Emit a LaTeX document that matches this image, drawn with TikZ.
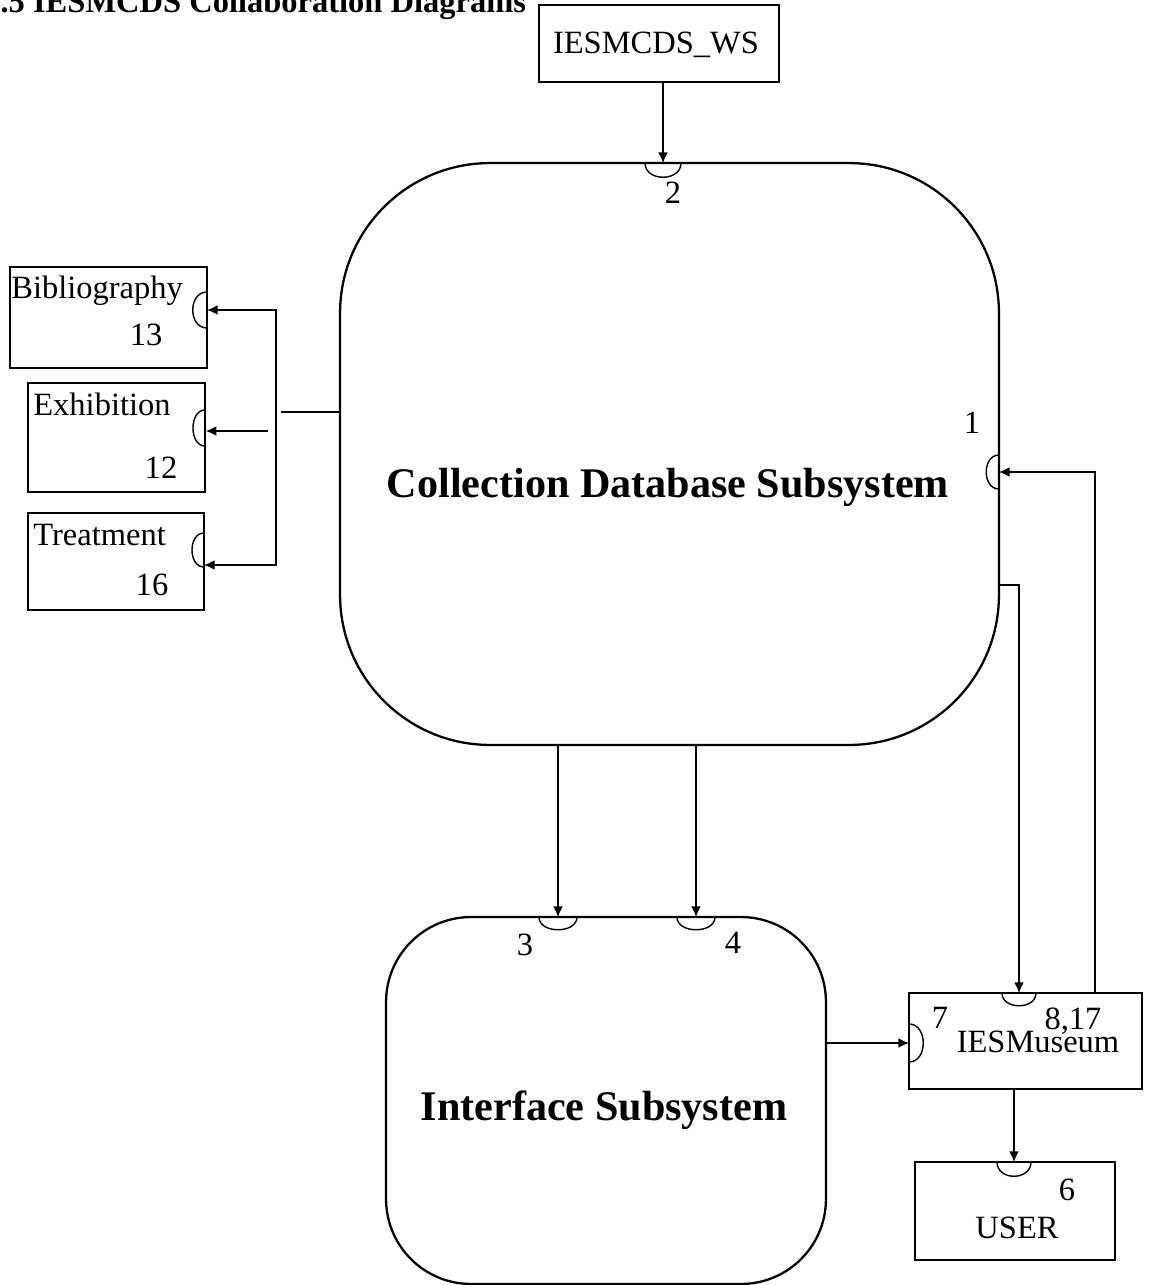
\documentclass[tikz,border=0pt]{standalone}
\usepackage{fontspec}
\setmainfont{Liberation Serif}
\usetikzlibrary{arrows.meta,positioning}

\begin{document}
\begin{tikzpicture}[
    x=0.02cm, y=-0.02cm,
    box/.style={rectangle, draw, line width=0.9pt, inner sep=0pt},
    subsys/.style={rectangle, draw, line width=1.3pt, inner sep=0pt},
    txt/.style={font=\fontsize{18.5}{20}\selectfont, inner sep=0pt},
    bigtxt/.style={font=\bfseries\fontsize{24}{26}\selectfont, inner sep=0pt},
    heading/.style={font=\bfseries\fontsize{18.5}{20}\selectfont, inner sep=0pt},
    port/.style={line width=0.8pt},
    line/.style={line width=0.8pt},
    arrow/.style={line width=0.8pt, ->, >={Latex[length=6pt,width=5.5pt]}}
]
    \useasboundingbox (0,0) rectangle (1149,1285);
    \node[heading, anchor=base west] (title) at (-16,12) {4.5 IESMCDS Collaboration Diagrams};

    % subsystems
    \node[subsys, minimum width=13.18cm, minimum height=11.64cm, rounded corners=3cm] (cds) at (669.5,454) {};
    \node[bigtxt, anchor=base] (cdslabel) at (668,497) {Collection Database Subsystem};
    \node[subsys, minimum width=8.8cm, minimum height=7.34cm, rounded corners=1.7cm] (ifs) at (606,1100.5) {};
    \node[bigtxt, anchor=base] (ifslabel) at (604,1120) {Interface Subsystem};

    % boxes
    \node[box, minimum width=4.8cm, minimum height=1.54cm] (ws) at (659,43.5) {};
    \node[txt, anchor=base] (wslabel) at (656,53) {IESMCDS\_WS};
    \node[box, minimum width=3.94cm, minimum height=2.02cm] (bib) at (108.5,317.5) {};
    \node[txt, anchor=base west] (biblabel) at (11,298) {Bibliography};
    \node[txt, anchor=base] (bibnum) at (146,345) {13};
    \node[box, minimum width=3.54cm, minimum height=2.18cm] (ex) at (116.5,437.5) {};
    \node[txt, anchor=base west] (exlabel) at (33,415) {Exhibition};
    \node[txt, anchor=base] (exnum) at (161,478) {12};
    \node[box, minimum width=3.52cm, minimum height=1.94cm] (treat) at (116,561.5) {};
    \node[txt, anchor=base west] (treatlabel) at (33,545) {Treatment};
    \node[txt, anchor=base] (treatnum) at (152,595) {16};
    \node[box, minimum width=4.66cm, minimum height=1.92cm] (museum) at (1025.5,1041) {};
    \node[txt, anchor=base] (museumlabel) at (1038,1052) {IESMuseum};
    \node[box, minimum width=4cm, minimum height=1.96cm] (user) at (1015,1211) {};
    \node[txt, anchor=base] (userlabel) at (1017,1238) {USER};

    % port numbers
    \node[txt, anchor=base] (n2) at (673,203) {2};
    \node[txt, anchor=base] (n1) at (972,433) {1};
    \node[txt, anchor=base] (n3) at (525,955) {3};
    \node[txt, anchor=base] (n4) at (733,953) {4};
    \node[txt, anchor=base] (n7) at (940,1028) {7};
    \node[txt, anchor=base] (n817) at (1073,1029) {8,17};
    \node[txt, anchor=base] (n6) at (1067,1200) {6};

    % ports
    \coordinate (p2) at (663,163);
    \coordinate (p1) at (999,472);
    \coordinate (p3) at (558,917);
    \coordinate (p4) at (696,917);
    \coordinate (p7) at (909,1043);
    \coordinate (p8) at (1019,993);
    \coordinate (p6) at (1014,1162);
    \coordinate (pb) at (207,310);
    \coordinate (pe) at (205,428);
    \coordinate (pt) at (204,550);
    \draw[port] (p2) ++(-18,0) .. controls +(0,19) and +(0,19) .. ++(36,0);
    \draw[port] (p3) ++(-19,0) .. controls +(0,17) and +(0,17) .. ++(38,0);
    \draw[port] (p4) ++(-19,0) .. controls +(0,17) and +(0,17) .. ++(38,0);
    \draw[port] (p8) ++(-17,0) .. controls +(0,17) and +(0,17) .. ++(34,0);
    \draw[port] (p6) ++(-17,0) .. controls +(0,19) and +(0,19) .. ++(34,0);
    \draw[port] (p1) ++(0,-17) .. controls +(-17,0) and +(-17,0) .. ++(0,34);
    \draw[port] (p7) ++(0,-19) .. controls +(19,0) and +(19,0) .. ++(0,38);
    \draw[port] (pb) ++(0,-18) .. controls +(-19,0) and +(-19,0) .. ++(0,36);
    \draw[port] (pe) ++(0,-18) .. controls +(-16,0) and +(-16,0) .. ++(0,36);
    \draw[port] (pt) ++(0,-17) .. controls +(-16,0) and +(-16,0) .. ++(0,34);

    % connectors
    \coordinate (rise) at (1095,993);
    \coordinate (cdsout) at (999,585);
    \coordinate (bus) at (276,437);
    \coordinate (treatin) at (204,565);
    \coordinate (exfree) at (268,431);
    \coordinate (busjoin) at (281,412);
    \draw[arrow] (ws.south -| p2) -- (p2);
    \draw[arrow] (rise) |- (p1);
    \draw[arrow] (cdsout) -| (p8);
    \draw[arrow] (cds.south -| p3) -- (p3);
    \draw[arrow] (cds.south -| p4) -- (p4);
    \draw[arrow] (ifs.east |- p7) -- (p7);
    \draw[arrow] (museum.south -| p6) -- (p6);
    \draw[arrow, <->] (pb) -| (bus) |- (treatin);
    \draw[arrow] (exfree) -- (ex.east |- exfree);
    \draw[line] (cds.west |- busjoin) -- (busjoin);
\end{tikzpicture}
\end{document}
